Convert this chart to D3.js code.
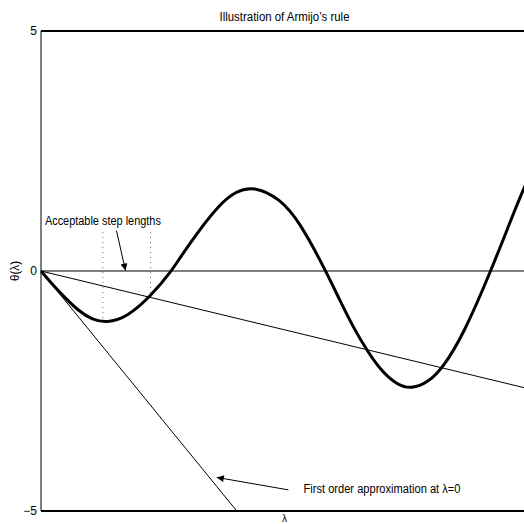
<!DOCTYPE html>
<html>
<head>
<meta charset="utf-8">
<script src="https://cdn.jsdelivr.net/npm/d3@7/dist/d3.min.js"></script>
<style>
  html, body { margin: 0; padding: 0; background: #fff; overflow: hidden; }
  text { font-family: "Liberation Sans", Arial, sans-serif; fill: #000; }
</style>
</head>
<body>
<div id="chart"></div>
<script>
// theta(lambda)
var lambdaValues = [0, 0.39, 0.80, 1.05, 1.35, 1.76, 2.27, 2.68, 2.85, 3.26, 3.68, 4.00, 4.36, 4.91, 5.32, 5.85, 6.14, 6.41, 6.69, 6.96, 7.30, 7.61, 7.95, 8.25, 8.67, 9.24, 9.70, 9.92, 10.0];
var thetaValues  = [0, -0.46, -0.86, -1.01, -1.08, -0.97, -0.51, 0, 0.27, 0.87, 1.40, 1.66, 1.77, 1.51, 1.01, 0, -0.62, -1.17, -1.65, -2.05, -2.37, -2.46, -2.32, -2.02, -1.33, 0, 1.20, 1.73, 1.92];

// straight lines through the origin: first order approx and the relaxed (armijo) line
var tangentEnd = [4.02, -5];
var armijoEnd = [10, -2.45];

// dotted markers for acceptable step lengths
var stepLambdas = [1.27, 2.25];
var stepTops = [0.81, 0.81];
var stepBottoms = [-1.07, -0.53];

var yTicks = [-5, 0, 5];
var yTickLabels = ["\u22125", "0", "5"];

var W = 524, H = 524;
var margin = { top: 31, left: 41, bottom: 13 };

var x = d3.scaleLinear().domain([0, 10]).range([margin.left, 528]);
var y = d3.scaleLinear().domain([-5, 5]).range([H - margin.bottom, margin.top]);

var svg = d3.select("#chart").append("svg")
    .attr("width", W)
    .attr("height", H);

svg.append("defs").append("marker")
    .attr("id", "head")
    .attr("viewBox", "0 0 10 10")
    .attr("refX", 10)
    .attr("refY", 5)
    .attr("markerWidth", 10)
    .attr("markerHeight", 7)
    .attr("markerUnits", "userSpaceOnUse")
    .attr("orient", "auto")
  .append("path")
    .attr("d", "M0,0 L10,5 L0,10 Z")
    .attr("fill", "#000");

// frame: left, top, bottom
svg.append("line")
    .attr("x1", x(0)).attr("x2", x(0))
    .attr("y1", y(5)).attr("y2", y(-5))
    .attr("stroke", "#000").attr("stroke-width", 1);
svg.append("line")
    .attr("x1", x(0)).attr("x2", x(10))
    .attr("y1", y(5)).attr("y2", y(5))
    .attr("stroke", "#000").attr("stroke-width", 2);
svg.append("line")
    .attr("x1", x(0)).attr("x2", x(10))
    .attr("y1", y(-5)).attr("y2", y(-5))
    .attr("stroke", "#000").attr("stroke-width", 2);

// y tick labels
svg.selectAll(".ytick").data(yTicks).enter().append("text")
    .attr("class", "ytick")
    .attr("x", margin.left - 4)
    .attr("y", function(d) { return y(d) + 4; })
    .attr("text-anchor", "end")
    .style("font-size", "12px")
    .text(function(d, i) { return yTickLabels[i]; });

// zero line
svg.append("line")
    .attr("x1", x(0)).attr("x2", x(10))
    .attr("y1", y(0)).attr("y2", y(0))
    .attr("stroke", "#000").attr("stroke-width", 1.2);

var line = d3.line()
    .x(function(d) { return x(d[0]); })
    .y(function(d) { return y(d[1]); });

svg.append("path")
    .attr("d", line([[0, 0], tangentEnd]))
    .attr("fill", "none").attr("stroke", "#000").attr("stroke-width", 1);
svg.append("path")
    .attr("d", line([[0, 0], armijoEnd]))
    .attr("fill", "none").attr("stroke", "#000").attr("stroke-width", 1);

// dotted step markers
svg.selectAll(".step").data(stepLambdas).enter().append("line")
    .attr("class", "step")
    .attr("x1", function(d) { return x(d); })
    .attr("x2", function(d) { return x(d); })
    .attr("y1", function(d, i) { return y(stepTops[i]); })
    .attr("y2", function(d, i) { return y(stepBottoms[i]); })
    .attr("stroke", "#666")
    .attr("stroke-width", 1)
    .attr("stroke-dasharray", "1,4");

// the function
var pts = lambdaValues.map(function(l, i) { return [l, thetaValues[i]]; });
var smooth = d3.line()
    .x(function(d) { return x(d[0]); })
    .y(function(d) { return y(d[1]); })
    .curve(d3.curveBasis);
svg.append("path")
    .attr("d", smooth(pts))
    .attr("fill", "none")
    .attr("stroke", "#000")
    .attr("stroke-width", 3)
    .attr("stroke-linejoin", "round");

// annotations (narrow helvetica look via textLength)
svg.append("path")
    .attr("d", line([[1.55, 0.84], [1.735, 0.01]]))
    .attr("stroke", "#000").attr("stroke-width", 1)
    .attr("marker-end", "url(#head)");
svg.append("text")
    .attr("x", x(0.08))
    .attr("y", y(0.96))
    .attr("textLength", 116)
    .attr("lengthAdjust", "spacingAndGlyphs")
    .style("font-size", "12.5px")
    .text("Acceptable step lengths");

svg.append("path")
    .attr("d", line([[5.08, -4.56], [3.61, -4.30]]))
    .attr("stroke", "#000").attr("stroke-width", 1)
    .attr("marker-end", "url(#head)");
svg.append("text")
    .attr("x", x(5.39))
    .attr("y", y(-4.62))
    .attr("textLength", 157)
    .attr("lengthAdjust", "spacingAndGlyphs")
    .style("font-size", "12.5px")
    .text("First order approximation at \u03bb=0");

// title and axis labels
svg.append("text")
    .attr("x", (x(0) + x(10)) / 2)
    .attr("y", 21)
    .attr("text-anchor", "middle")
    .attr("textLength", 130)
    .attr("lengthAdjust", "spacingAndGlyphs")
    .style("font-size", "12.5px")
    .text("Illustration of Armijo\u2019s rule");

svg.append("text")
    .attr("x", (x(0) + x(10)) / 2)
    .attr("y", 522)
    .attr("text-anchor", "middle")
    .style("font-size", "10px")
    .text("\u03bb");

svg.append("text")
    .attr("transform", "translate(19," + y(0) + ") rotate(-90)")
    .attr("text-anchor", "middle")
    .attr("textLength", 20)
    .attr("lengthAdjust", "spacingAndGlyphs")
    .style("font-size", "12px")
    .text("\u03b8(\u03bb)");
</script>
</body>
</html>
